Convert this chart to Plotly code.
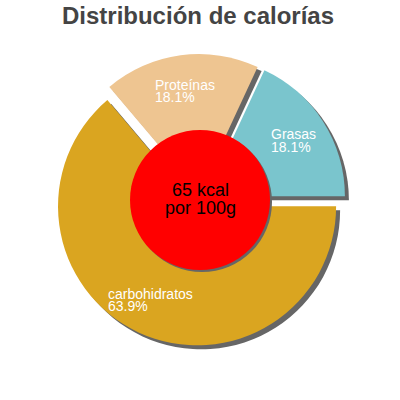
import plotly.graph_objects as go

labels = ["carbohidratos", "Proteínas", "Grasas"]
values = [63.9, 18.1, 18.1]
percent_text = ["63.9%", "18.1%", "18.1%"]
colors = ["#DAA520", "#EEC591", "#7AC5CD"]
kcal_lines = ["65 kcal", "por 100g"]
title = "Distribución de calorías"

# label left edge and baseline of name (pixels in the page)
label_pos = [(108, 298.5), (155, 89.5), (271, 139)]

W = H = 400
cx, cy, half = 200, 200, 146
shadow = 4
FONT = "Liberation Sans, Arial"


def px_x(x):
    return x / W


def px_y(y):
    return 1 - y / H


def dom(x0, y0):
    return dict(x=[(x0 - half) / W, (x0 + half) / W],
                y=[1 - (y0 + half) / H, 1 - (y0 - half) / H])


fig = go.Figure()
fig.add_trace(go.Pie(labels=labels, values=values, sort=False, direction="clockwise",
                     rotation=90, pull=[0.05] * 3, textinfo="none", hoverinfo="skip",
                     marker=dict(colors=["#666666"] * 3, line=dict(width=0)),
                     domain=dom(cx + shadow, cy + shadow), showlegend=False))
fig.add_trace(go.Pie(labels=labels, values=values, sort=False, direction="clockwise",
                     rotation=90, pull=[0.05] * 3, textinfo="none", hoverinfo="skip",
                     marker=dict(colors=colors, line=dict(width=0)),
                     domain=dom(cx, cy), showlegend=False))

r = 70
for dx, col in [(2, "#666666"), (0, "#FF0000")]:
    fig.add_shape(type="circle", xref="paper", yref="paper",
                  x0=(cx - r + dx) / W, x1=(cx + r + dx) / W,
                  y0=1 - (cy + r + dx) / H, y1=1 - (cy - r + dx) / H,
                  fillcolor=col, line=dict(width=0), layer="above")

for i, line in enumerate(kcal_lines):
    fig.add_annotation(x=px_x(200), y=px_y(190 + 17.6 * i), xref="paper", yref="paper",
                       text=line, showarrow=False, yanchor="middle",
                       font=dict(family=FONT, size=18, color="black"))

for lab, pct, (lx, ly) in zip(labels, percent_text, label_pos):
    for j, t in enumerate([lab, pct]):
        fig.add_annotation(x=px_x(lx - 2), y=px_y(ly - 4.5 + 12 * j), xref="paper", yref="paper",
                           xanchor="left", yanchor="middle", align="left",
                           text=t, showarrow=False,
                           font=dict(family=FONT, size=14, color="white"))

fig.update_layout(
    width=W, height=H,
    margin=dict(l=0, r=0, t=0, b=0),
    paper_bgcolor="white", plot_bgcolor="white",
    title=dict(text=f"<b>{title}</b>", x=px_x(198), xanchor="center", y=px_y(15.5), yanchor="middle",
               font=dict(family=FONT, size=24, color="#444444")),
)
# drop the default 8px page margin so the figure sits at the window corner
fig.write_html("out.html", config={"displayModeBar": False},
               post_script="document.body.style.margin='0';")
